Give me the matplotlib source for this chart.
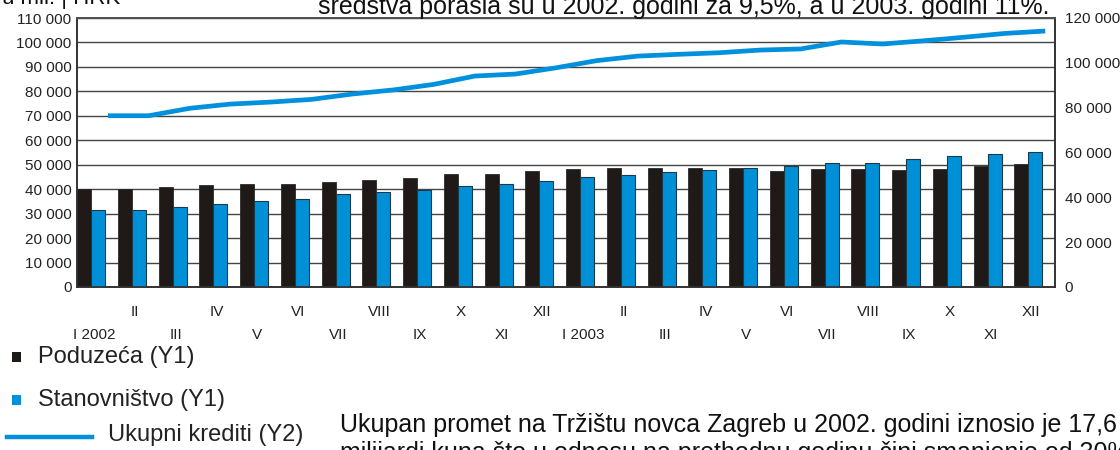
import matplotlib
matplotlib.use("Agg")
import matplotlib.pyplot as plt
from matplotlib.patches import Rectangle
from matplotlib.lines import Line2D
import numpy as np

plt.rcParams['font.family'] = ['Liberation Sans', 'DejaVu Sans']

months = ["I 2002", "II", "III", "IV", "V", "VI", "VII", "VIII", "IX", "X", "XI", "XII",
          "I 2003", "II", "III", "IV", "V", "VI", "VII", "VIII", "IX", "X", "XI", "XII"]
poduzeca = [40000, 39900, 40900, 41700, 42000, 42250, 43000, 43700, 44600, 46300, 46400, 47300,
            48200, 48800, 48500, 48500, 48650, 47550, 48100, 48100, 47850, 48100, 49400, 50300]
stanovnistvo = [31300, 31300, 32700, 34100, 35300, 36100, 38000, 38700, 39700, 41400, 42200, 43200,
                44800, 46000, 46900, 47700, 48500, 49400, 50800, 50800, 52300, 53400, 54400, 55200]
ukupni_krediti = [76400, 76400, 79700, 81600, 82500, 83700, 86100, 87900, 90400, 94100, 95000, 97800,
                  101000, 103000, 103800, 104500, 105700, 106200, 109300, 108400, 109800, 111400, 113100, 114200]

black = '#1f1a17'
blue = '#0090d8'
W, H = 1120, 450

fig = plt.figure(figsize=(11.2, 4.5), dpi=100)
ax = fig.add_axes([77 / W, 1 - 287 / H, (1055 - 77) / W, (287 - 18) / H])
ax2 = ax.twinx()

n = len(months)
x = np.arange(n)
bw = 0.345
ax.bar(x, poduzeca, width=bw, align='edge', color=black, edgecolor='#2a2a2a', linewidth=0.6, zorder=3)
ax.bar(x + bw, stanovnistvo, width=bw, align='edge', color=blue, edgecolor='#1a3a4a', linewidth=0.8, zorder=3)
ax2.plot(x + 0.76, ukupni_krediti, color='#0090dc', linewidth=3.4, solid_capstyle='butt', solid_joinstyle='round')

ax.set_xlim(0, n)
ax.set_ylim(0, 110000)
ax2.set_ylim(0, 120000)

yt = np.arange(0, 110001, 10000)
ax.set_yticks(yt)
ax.set_yticklabels([f"{v:,}".replace(",", " ") for v in yt], fontsize=11, color='#222')
ax.yaxis.grid(True, color='#444', linewidth=1.0, zorder=0)
ax.set_axisbelow(True)
ax.tick_params(axis='y', length=0, pad=4)

yt2 = np.arange(0, 120001, 20000)
ax2.set_yticks(yt2)
ax2.set_yticklabels([f"{v:,}".replace(",", " ") for v in yt2], fontsize=11, color='#222')
ax2.tick_params(axis='y', length=0, pad=7)

# x tick labels in two rows
odd = x[1::2]
even = x[0::2]
ax.set_xticks(odd + 0.42)
ax.set_xticklabels(months[1::2], fontsize=11, color='#222')
ax.set_xticks(even + 0.42, minor=True)
ax.set_xticklabels(months[0::2], minor=True, fontsize=11, color='#222')
ax.tick_params(axis='x', which='major', length=0, pad=13)
ax.tick_params(axis='x', which='minor', length=0, pad=29.5)

for a in (ax, ax2):
    for s in a.spines.values():
        s.set_color('#333')
        s.set_linewidth(1.2)
ax2.spines['top'].set_color('#555')

# legend (manual, below chart)
def fy(py):
    return 1 - py / H

fig.patches.append(Rectangle((12 / W, fy(362)), 9 / W, 10 / H, transform=fig.transFigure,
                             facecolor=black, edgecolor='none'))
fig.text(38 / W, fy(357), "Poduzeća (Y1)", fontsize=17, va='center', ha='left', color='#222')
fig.patches.append(Rectangle((12 / W, fy(405)), 9 / W, 10 / H, transform=fig.transFigure,
                             facecolor=blue, edgecolor='none'))
fig.text(38 / W, fy(400), "Stanovništvo (Y1)", fontsize=17, va='center', ha='left', color='#222')
fig.lines.append(Line2D([7 / W, 92 / W], [fy(437), fy(437)], transform=fig.transFigure,
                        color='#0090dc', linewidth=3.2))
fig.text(108 / W, fy(435), "Ukupni krediti (Y2)", fontsize=17, va='center', ha='left', color='#222')

# surrounding page text (partially cropped)
fig.text(340 / W, fy(425), "Ukupan promet na Tržištu novca Zagreb u 2002. godini iznosio je 17,6",
         fontsize=18, va='center', ha='left', color='#111')
fig.text(340 / W, fy(453), "milijardi kuna što u odnosu na prethodnu godinu čini smanjenje od 30%",
         fontsize=18, va='center', ha='left', color='#111')
fig.text(318 / W, fy(14), "sredstva porasla su u 2002. godini za 9,5%, a u 2003. godini 11%.",
         fontsize=18, va='baseline', ha='left', color='#111')
fig.text(2 / W, fy(4), "u mil. | HRK", fontsize=16, va='baseline', ha='left', color='#111')

fig.savefig("out.png", dpi=100)
